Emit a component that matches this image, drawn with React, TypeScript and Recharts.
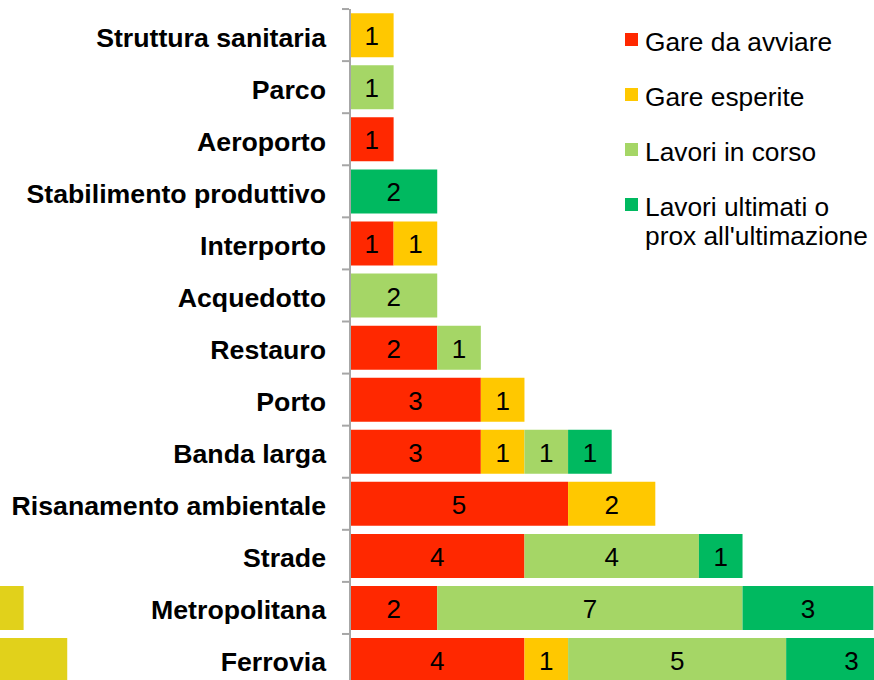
import React from "react";
import { BarChart, Bar, XAxis, YAxis, Legend, LabelList } from "recharts";

const categories = [
  "Struttura sanitaria",
  "Parco",
  "Aeroporto",
  "Stabilimento produttivo",
  "Interporto",
  "Acquedotto",
  "Restauro",
  "Porto",
  "Banda larga",
  "Risanamento ambientale",
  "Strade",
  "Metropolitana",
  "Ferrovia",
];
const gareDaAvviare = [0, 0, 1, 0, 1, 0, 2, 3, 3, 5, 4, 2, 4];
const gareEsperite = [1, 0, 0, 0, 1, 0, 0, 1, 1, 2, 0, 0, 1];
const lavoriInCorso = [0, 1, 0, 0, 0, 2, 1, 0, 1, 0, 4, 7, 5];
const lavoriUltimati = [0, 0, 0, 2, 0, 0, 0, 0, 1, 0, 1, 3, 3];
// bars of the neighbouring chart, cut off at the left edge
const leftBars = [0, 0, 0, 0, 0, 0, 0, 0, 0, 0, 0, 1, 2];

const SERIES = [
  { key: "avviare", name: "Gare da avviare", color: "#ff2800" },
  { key: "esperite", name: "Gare esperite", color: "#ffc800" },
  { key: "corso", name: "Lavori in corso", color: "#a5d666" },
  { key: "ultimati", name: "Lavori ultimati o prox all'ultimazione", color: "#00b960" },
];

const LEGEND_LINES: Record<string, string[]> = {
  "Lavori ultimati o prox all'ultimazione": ["Lavori ultimati o", "prox all'ultimazione"],
};

const data = categories.map((name, i) => ({
  name,
  avviare: gareDaAvviare[i],
  esperite: gareEsperite[i],
  corso: lavoriInCorso[i],
  ultimati: lavoriUltimati[i],
  left: leftBars[i],
}));

const FONT = "'Liberation Sans', Arial, sans-serif";
const BAND = 52;

const renderTick = (props: any) => {
  const { x, y, payload } = props;
  return (
    <g>
      <line x1={x - 8} x2={x - 1} y1={y - BAND / 2} y2={y - BAND / 2} stroke="#a6a6a6" strokeWidth={2} />
      <text
        x={x - 24}
        y={y + 11.5}
        textAnchor="end"
        fontFamily={FONT}
        fontSize={26.7}
        fontWeight="bold"
        fill="#000"
      >
        {payload.value}
      </text>
    </g>
  );
};

const renderValue = (props: any) => {
  const { x, y, width, height, value } = props;
  if (!value) return null;
  return (
    <text
      x={x + width / 2}
      y={y + height / 2 + 10}
      textAnchor="middle"
      fontFamily={FONT}
      fontSize={26}
      fill="#000"
    >
      {value}
    </text>
  );
};

const renderLegend = (props: any) => {
  const items = props.payload || [];
  return (
    <svg width={260} height={270}>
      {items.map((item: any, i: number) => {
        const lines = LEGEND_LINES[item.value] || [item.value];
        return (
          <g key={item.value}>
            <rect x={5} y={33 + i * 55} width={13} height={13} fill={item.color} />
            {lines.map((line, j) => (
              <text
                key={line}
                x={25}
                y={51 + i * 55 + j * 29}
                fontFamily={FONT}
                fontSize={26.3}
                fill="#000"
              >
                {line}
              </text>
            ))}
          </g>
        );
      })}
    </svg>
  );
};

export default function App() {
  return (
    <div
      style={{
        position: "absolute",
        left: 0,
        top: 0,
        width: 874,
        height: 680,
        overflow: "hidden",
        background: "#fff",
      }}
    >
      <div style={{ position: "absolute", left: -19.6, top: 0 }}>
        <BarChart
          layout="vertical"
          width={567}
          height={686}
          data={data}
          margin={{ top: 9, right: 0, bottom: 0, left: 0 }}
          barCategoryGap="8%"
        >
          <XAxis type="number" domain={[0, 13]} hide />
          <YAxis type="category" dataKey="name" hide />
          <Bar dataKey="left" fill="#e1d11b" isAnimationActive={false} />
        </BarChart>
      </div>
      <div style={{ position: "absolute", left: 0, top: 0 }}>
        <BarChart
          layout="vertical"
          width={917}
          height={686}
          data={data}
          margin={{ top: 9, right: 0, bottom: 0, left: 0 }}
          barCategoryGap="8%"
        >
          <XAxis type="number" domain={[0, 13]} hide allowDataOverflow />
          <YAxis
            type="category"
            dataKey="name"
            width={350}
            tickSize={0}
            tickMargin={0}
            tickLine={false}
            axisLine={{ stroke: "#a6a6a6", strokeWidth: 2 }}
            tick={renderTick}
            interval={0}
          />
          <Legend
            layout="vertical"
            align="center"
            verticalAlign="middle"
            content={renderLegend}
            wrapperStyle={{ position: "absolute", top: 0, left: 620, width: 260 }}
          />
          {SERIES.map((s) => (
            <Bar
              key={s.key}
              dataKey={s.key}
              name={s.name}
              stackId="a"
              fill={s.color}
              isAnimationActive={false}
            >
              <LabelList dataKey={s.key} content={renderValue} />
            </Bar>
          ))}
        </BarChart>
      </div>
    </div>
  );
}
